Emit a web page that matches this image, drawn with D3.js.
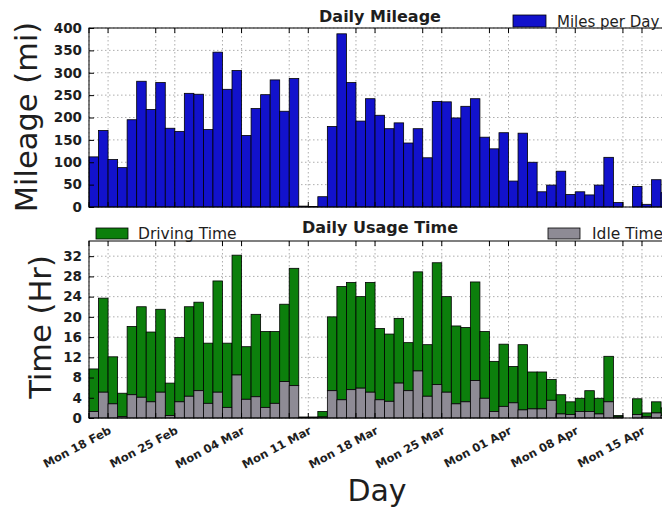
<!DOCTYPE html>
<html><head><meta charset="utf-8">
<script src="https://cdn.jsdelivr.net/npm/d3@7"></script>
<style>
body{margin:0;background:#fff}
svg{display:block}
text{font-family:"DejaVu Sans",sans-serif;fill:#1e1e1e}
</style>
</head><body>
<svg id="c" width="662" height="510"></svg>
<script>
// ---------------- data ----------------
const startDate = "2013-02-16";
const endDate = "2013-04-18";
const miles = [112,171,106,88,195,281,218,278,176,169,254,252,173,346,263,305,160,220,251,284,214,287,
  2,1,23,180,387,278,192,242,205,175,188,143,175,110,236,235,199,225,242,156,130,166,58,165,100,34,49,80,
  28,34,27,49,111,10,0,46,6,61,32];
const drivingHours = [8.4,18.6,9.3,4.6,13.5,17.9,13.8,16.4,6.4,12.7,17.7,17.5,11.9,22.0,12.7,23.7,10.4,16.3,15.0,14.2,15.3,23.2,
  0.1,0.1,1.1,14.6,22.4,21.2,18.1,21.7,14.1,13.3,12.8,9.5,19.6,10.2,24.1,18.9,15.4,14.7,19.5,13.2,9.9,12.3,7.2,12.9,7.3,7.3,4.1,3.8,
  2.5,2.6,4.1,3.1,9.0,0.3,0,3.1,0.7,2.2,1.5];
const idleHours = [1.3,5.1,2.8,0.3,4.6,4.1,3.2,5.1,0.5,3.2,4.3,5.4,2.9,5.1,2.1,8.5,3.7,4.2,2.1,2.9,7.2,6.4,
  0.1,0.1,0.2,5.4,3.6,5.6,5.9,5.1,3.6,3.3,6.9,5.4,9.3,4.3,6.6,5.1,2.8,3.2,7.4,3.9,1.3,2.3,3.0,1.6,1.8,1.8,3.5,0.8,
  0.7,1.3,1.3,0.8,3.2,0.2,0,0.7,0.3,1.0,0.5];
const majorTickDates = ["2013-02-18","2013-02-25","2013-03-04","2013-03-11","2013-03-18","2013-03-25","2013-04-01","2013-04-08","2013-04-15"];
const minorTickDates = ["2013-02-16","2013-02-23","2013-03-02","2013-03-09","2013-03-16","2013-03-23","2013-03-30","2013-04-06","2013-04-13"];
const mileTicks = [0,50,100,150,200,250,300,350,400];
const hourTicks = [0,4,8,12,16,20,24,28,32];

// ---------------- setup ----------------
const parse = d3.utcParse("%Y-%m-%d");
const fmt = d3.utcFormat("%a %d %b");
const days = miles.map((_, i) => d3.utcDay.offset(parse(startDate), i));
const svg = d3.select("#c");

const L = 89, R = 670.6;
const x = d3.scaleUtc().domain([parse(startDate), parse(endDate)]).range([L, R]);
const yTop = d3.scaleLinear().domain([0, 400]).range([207, 28]);
const yBot = d3.scaleLinear().domain([0, 35]).range([418, 241]);

const COL_BLUE = "#1212cc", COL_GREEN = "#0c7f0c", COL_GRAY = "#8e8b95";
const allX = majorTickDates.concat(minorTickDates).map(parse);

function panel(y, ticks) {
  const g = svg.append("g");
  const [y0, y1] = y.range();
  g.append("g").selectAll("line").data(ticks).join("line")
    .attr("x1", L).attr("x2", R).attr("y1", d => y(d)).attr("y2", d => y(d))
    .attr("stroke", "#8a8a8a").attr("stroke-width", 0.7).attr("stroke-dasharray", "1.5,2.5");
  g.append("g").selectAll("line").data(allX).join("line")
    .attr("x1", d => x(d)).attr("x2", d => x(d)).attr("y1", y1).attr("y2", y0)
    .attr("stroke", "#8a8a8a").attr("stroke-width", 0.7).attr("stroke-dasharray", "1.5,2.5");
  return g;
}

function frame(g, y, ticks) {
  const [y0, y1] = y.range();
  const ax = g.append("g").attr("transform", `translate(${L},0)`)
    .call(d3.axisLeft(y).tickValues(ticks).tickSizeInner(-5).tickSizeOuter(0).tickPadding(7));
  ax.select(".domain").remove();
  ax.selectAll("line").attr("stroke", "#000");
  ax.selectAll("text").attr("font-size", 13.5).attr("font-weight", "bold")
    .attr("font-family", "DejaVu Sans").attr("fill", "#222");
  [y0, y1].forEach((yy, k) => {
    g.append("g").selectAll("line").data(allX).join("line")
      .attr("x1", d => x(d)).attr("x2", d => x(d))
      .attr("y1", yy).attr("y2", k === 0 ? yy - 5 : yy + 5)
      .attr("stroke", "#000").attr("stroke-width", 1);
  });
  g.append("rect").attr("x", L).attr("y", y1).attr("width", R - L).attr("height", y0 - y1)
    .attr("fill", "none").attr("stroke", "#000").attr("stroke-width", 1);
}

// ---------------- top panel: mileage ----------------
const gT = panel(yTop, mileTicks);
gT.append("g").selectAll("rect").data(miles).join("rect")
  .attr("x", (d, i) => x(days[i]))
  .attr("width", (d, i) => x(d3.utcDay.offset(days[i], 1)) - x(days[i]))
  .attr("y", d => yTop(d)).attr("height", d => yTop(0) - yTop(d))
  .attr("fill", COL_BLUE).attr("stroke", "#000").attr("stroke-width", 0.8);
frame(gT, yTop, mileTicks);

svg.append("text").attr("x", 380).attr("y", 22).attr("text-anchor", "middle")
  .attr("font-size", 16).attr("font-weight", "bold").attr("fill", "#333").text("Daily Mileage");
svg.append("rect").attr("x", 513).attr("y", 15).attr("width", 33).attr("height", 12)
  .attr("fill", COL_BLUE).attr("stroke", "#000").attr("stroke-width", 0.8);
svg.append("text").attr("x", 557).attr("y", 26.5).attr("font-size", 15).text("Miles per Day");

svg.append("text").attr("transform", "translate(37,117) rotate(-90)").attr("text-anchor", "middle")
  .attr("font-size", 30.5).text("Mileage (mi)");

// ---------------- bottom panel: usage time ----------------
const gB = panel(yBot, hourTicks);
const stacked = idleHours.map((v, i) => ({ idle: v, drive: drivingHours[i], day: days[i] }));
gB.append("g").selectAll("rect").data(stacked).join("rect")
  .attr("x", d => x(d.day))
  .attr("width", d => x(d3.utcDay.offset(d.day, 1)) - x(d.day))
  .attr("y", d => yBot(d.idle + d.drive)).attr("height", d => yBot(d.idle) - yBot(d.idle + d.drive))
  .attr("fill", COL_GREEN).attr("stroke", "#000").attr("stroke-width", 0.8);
gB.append("g").selectAll("rect").data(stacked).join("rect")
  .attr("x", d => x(d.day))
  .attr("width", d => x(d3.utcDay.offset(d.day, 1)) - x(d.day))
  .attr("y", d => yBot(d.idle)).attr("height", d => yBot(0) - yBot(d.idle))
  .attr("fill", COL_GRAY).attr("stroke", "#000").attr("stroke-width", 0.8);
frame(gB, yBot, hourTicks);

svg.append("text").attr("x", 380).attr("y", 233).attr("text-anchor", "middle")
  .attr("font-size", 16).attr("font-weight", "bold").attr("fill", "#333").text("Daily Usage Time");
svg.append("rect").attr("x", 96).attr("y", 228).attr("width", 32).attr("height", 11)
  .attr("fill", COL_GREEN).attr("stroke", "#000").attr("stroke-width", 0.8);
svg.append("text").attr("x", 138).attr("y", 238.5).attr("font-size", 15.5).text("Driving Time");
svg.append("rect").attr("x", 548).attr("y", 228).attr("width", 32).attr("height", 11)
  .attr("fill", COL_GRAY).attr("stroke", "#000").attr("stroke-width", 0.8);
svg.append("text").attr("x", 592).attr("y", 238.5).attr("font-size", 15.5).text("Idle Time");

svg.append("text").attr("transform", "translate(51,327) rotate(-90)").attr("text-anchor", "middle")
  .attr("font-size", 30.5).text("Time (Hr)");

// x tick labels
svg.append("g").selectAll("text").data(majorTickDates.map(parse)).join("text")
  .attr("transform", d => `translate(${x(d) + 4},433) rotate(-28)`)
  .attr("text-anchor", "end").attr("font-size", 11.5).attr("font-weight", "bold")
  .attr("fill", "#333").text(d => fmt(d));

svg.append("text").attr("x", 377).attr("y", 501).attr("text-anchor", "middle")
  .attr("font-size", 30).text("Day");
</script>
</body></html>
